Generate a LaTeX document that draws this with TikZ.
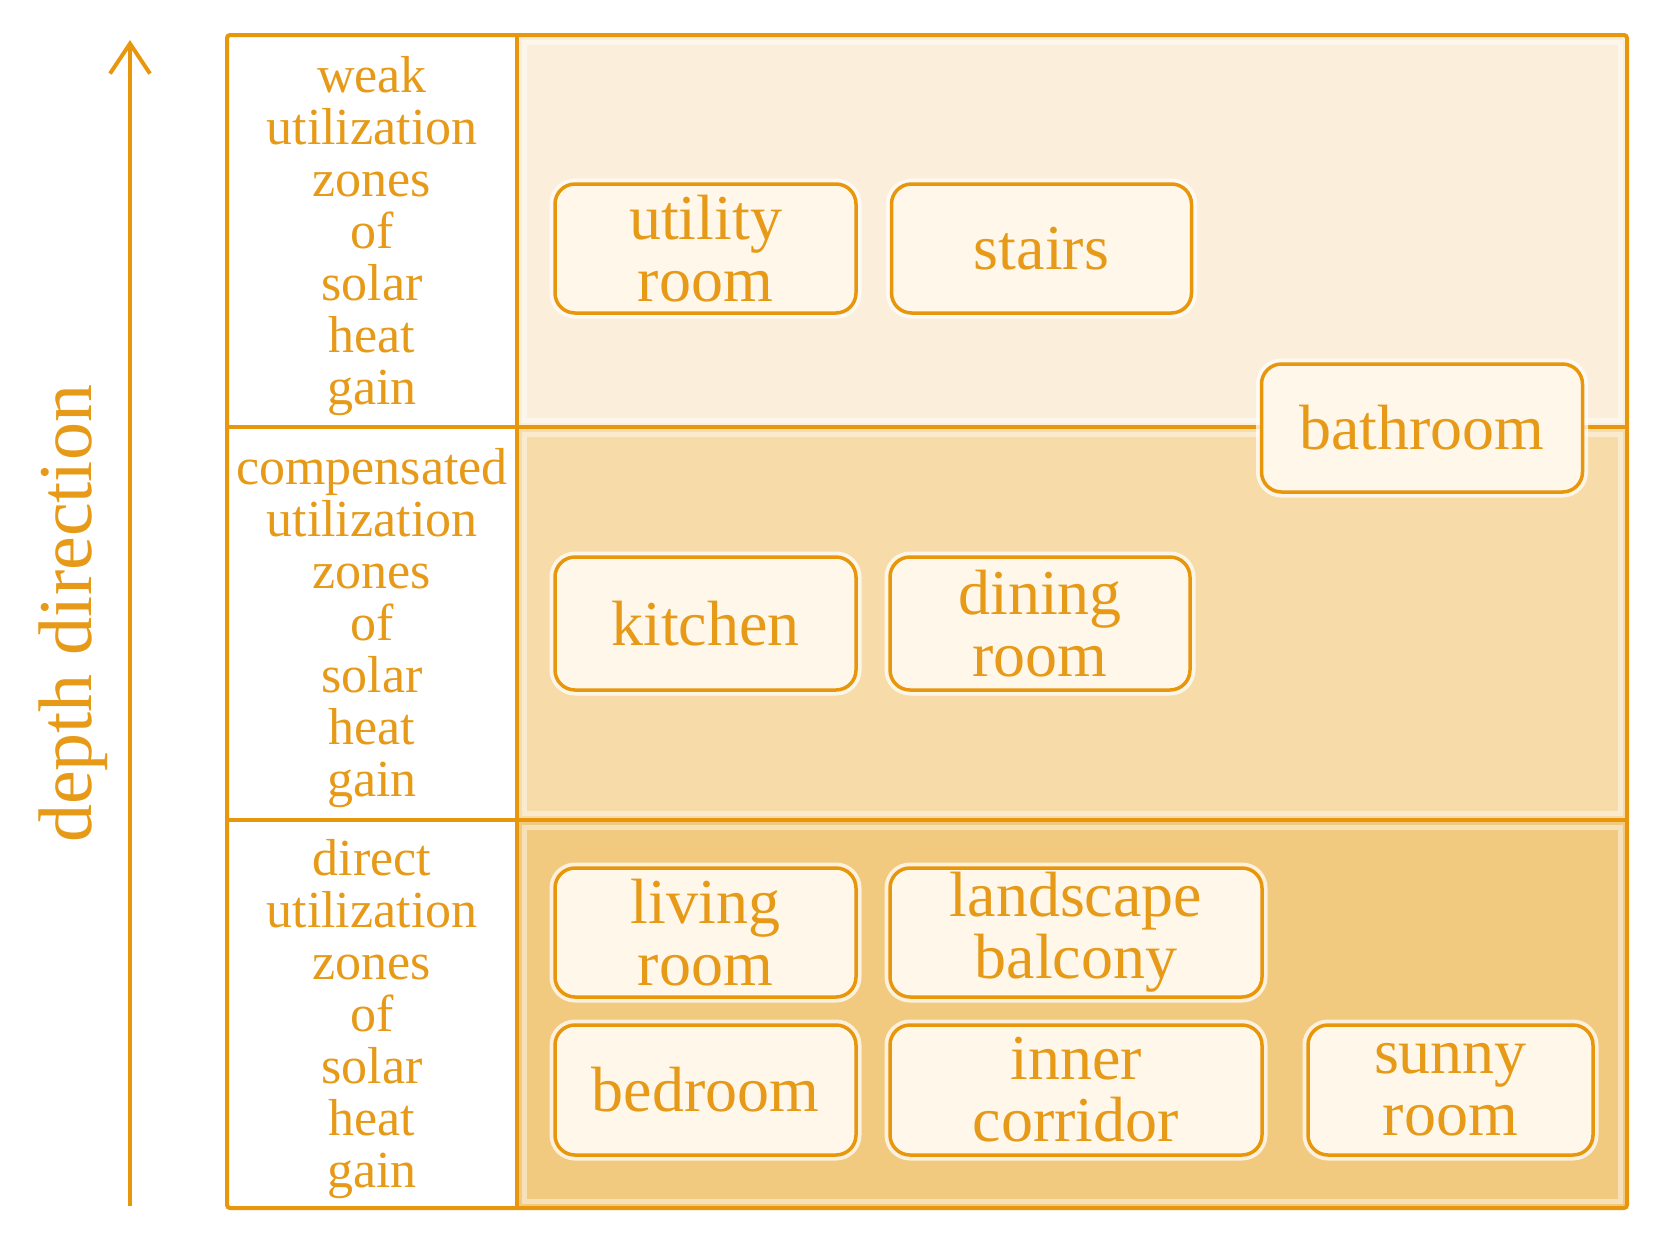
\documentclass[tikz,border=0pt]{standalone}
\usepackage{fontspec}
\setmainfont{Liberation Serif}
\usetikzlibrary{arrows.meta}
\definecolor{org}{HTML}{E8960C}
\definecolor{txt}{HTML}{E69A18}
\definecolor{bandA}{HTML}{FBEFDC}
\definecolor{bandB}{HTML}{F7DCA9}
\definecolor{bandC}{HTML}{F2CA7F}
\definecolor{roomfill}{HTML}{FEF7EA}
\begin{document}
\begin{tikzpicture}[x=1pt,y=-1pt,
  room/.style={draw=org, line width=3.5pt, rounded corners=20pt, fill=roomfill,
    text=txt, font=\fontsize{64}{62}\selectfont, align=center, inner sep=0pt,
    preaction={draw=white, line width=11pt, opacity=0.75}},
  zonetxt/.style={text=txt, font=\fontsize{52}{52}\selectfont, align=center, inner sep=0pt},
  frameline/.style={draw=org, line width=4pt},
  rim/.style={draw=white, line width=5pt, opacity=0.45}]
\useasboundingbox (0,0) rectangle (1658,1248);
% bands
\fill[white] (227,35) rectangle (517,1208);
\fill[bandA] (517,35) rectangle (1627,427);
\fill[bandB] (517,427) rectangle (1627,820);
\fill[bandC] (517,820) rectangle (1627,1208);
\draw[rim] (524,42) rectangle (1620,420);
\draw[rim] (524,434) rectangle (1620,813);
\draw[rim] (524,827) rectangle (1620,1201);
% frame
\draw[frameline, rounded corners=3pt] (227,35) rectangle (1627,1208);
\draw[frameline] (517,35) -- (517,1208);
\draw[frameline] (227,427) -- (1627,427);
\draw[frameline] (227,820) -- (1627,820);
% zone labels
\node[zonetxt] (zweak) at (372,236) {weak\\utilization\\zones\\of\\solar\\heat\\gain};
\node[zonetxt] (zcomp) at (372,628) {compensated\\utilization\\zones\\of\\solar\\heat\\gain};
\node[zonetxt] (zdir) at (372,1019) {direct\\utilization\\zones\\of\\solar\\heat\\gain};
% rooms
\node[room, minimum width=301pt, minimum height=129pt] (utility) at (705.5,248.5) {utility\\room};
\node[room, minimum width=300pt, minimum height=129pt] (stairs) at (1041.5,248.5) {stairs};
\node[room, minimum width=321pt, minimum height=128pt] (bath) at (1422,428) {bathroom};
\node[room, minimum width=301pt, minimum height=133pt] (kitchen) at (705.5,623.5) {kitchen};
\node[room, minimum width=300pt, minimum height=133pt] (dining) at (1040,623.5) {dining\\room};
\node[room, minimum width=301pt, minimum height=129pt] (living) at (705.5,932.5) {living\\room};
\node[room, minimum width=372pt, minimum height=129pt] (balcony) at (1076,932.5) {landscape\\balcony};
\node[room, minimum width=301pt, minimum height=130pt] (bedroom) at (705.5,1090) {bedroom};
\node[room, minimum width=372pt, minimum height=130pt] (corridor) at (1076,1090) {inner\\corridor};
\node[room, minimum width=285pt, minimum height=130pt] (sunny) at (1450.5,1090) {sunny\\room};
% arrow and label
\coordinate (abot) at (130,1206);
\coordinate (atop) at (130,40);
\draw[org, line width=4pt, -{Straight Barb[length=30pt, width=40pt]}] (abot) -- (atop);
\node[rotate=90, text=txt, font=\fontsize{76}{76}\selectfont, inner sep=0pt] (depth) at (73,614) {depth direction};
\end{tikzpicture}
\end{document}
